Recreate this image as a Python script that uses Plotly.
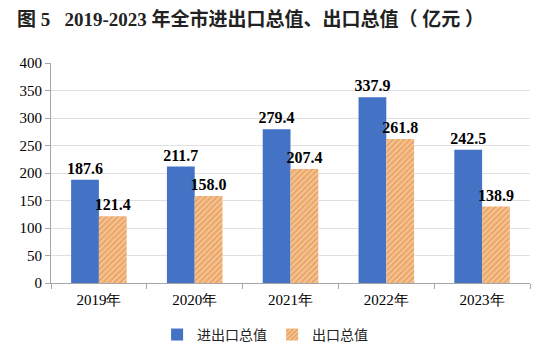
import plotly.graph_objects as go

years = ["2019年", "2020年", "2021年", "2022年", "2023年"]
total_trade = [187.6, 211.7, 279.4, 337.9, 242.5]
exports = [121.4, 158.0, 207.4, 261.8, 138.9]
y_ticks = [0, 50, 100, 150, 200, 250, 300, 350, 400]

label_font = dict(family="Liberation Serif", size=16, color="#000000")

fig = go.Figure()
fig.add_trace(go.Bar(
    x=years, y=total_trade, name="进出口总值",
    marker=dict(color="#4472C4", line=dict(width=0)),
    text=[f"{v:.1f}" for v in total_trade],
    textposition="outside", textfont=label_font, constraintext="none",
    texttemplate="<b>%{text}</b>", cliponaxis=False,
))
fig.add_trace(go.Bar(
    x=years, y=exports, name="出口总值",
    marker=dict(color="#EE9A55", line=dict(width=0),
                pattern=dict(shape="/", fgcolor="#E0802F", bgcolor="#F8D0A6",
                             size=4, solidity=0.7)),
    text=[f"{v:.1f}" for v in exports],
    textposition="outside", textfont=label_font, constraintext="none",
    texttemplate="<b>%{text}</b>", cliponaxis=False,
))

fig.update_layout(
    width=548, height=349,
    margin=dict(l=51, r=18, t=63, b=66, autoexpand=False),
    paper_bgcolor="white", plot_bgcolor="white",
    barmode="group", bargap=0.42, bargroupgap=0,
    title=dict(text="<b>图 5   2019-2023 年全市进出口总值、出口总值（ 亿元 ）</b>",
               x=0.031, xanchor="left", y=0.945, yanchor="middle",
               font=dict(family="Liberation Serif, Noto Sans CJK SC", size=19, color="#222222")),
    legend=dict(orientation="h", x=0.447, xanchor="center", y=-0.236, yanchor="middle",
                font=dict(family="Noto Sans CJK SC", size=14, color="#222222"),
                itemwidth=30, traceorder="normal", tracegroupgap=0),
    showlegend=True,
)
fig.update_xaxes(
    showline=True, linecolor="#A6A6A6", linewidth=1,
    ticks="outside", tickson="boundaries", ticklen=5, tickcolor="#A6A6A6",
    tickfont=dict(family="Liberation Serif", size=15, color="#000000"),
    ticklabelstandoff=3, automargin=False,
    showgrid=False,
)
fig.update_yaxes(
    range=[0, 400], tickvals=y_ticks,
    showline=True, linecolor="#A6A6A6", linewidth=1,
    ticks="outside", ticklen=5, tickcolor="#A6A6A6",
    gridcolor="#E0E0E0", gridwidth=1,
    tickfont=dict(family="Liberation Serif", size=15, color="#000000"),
    zeroline=False, automargin=False,
)

fig.write_html("out.html")
